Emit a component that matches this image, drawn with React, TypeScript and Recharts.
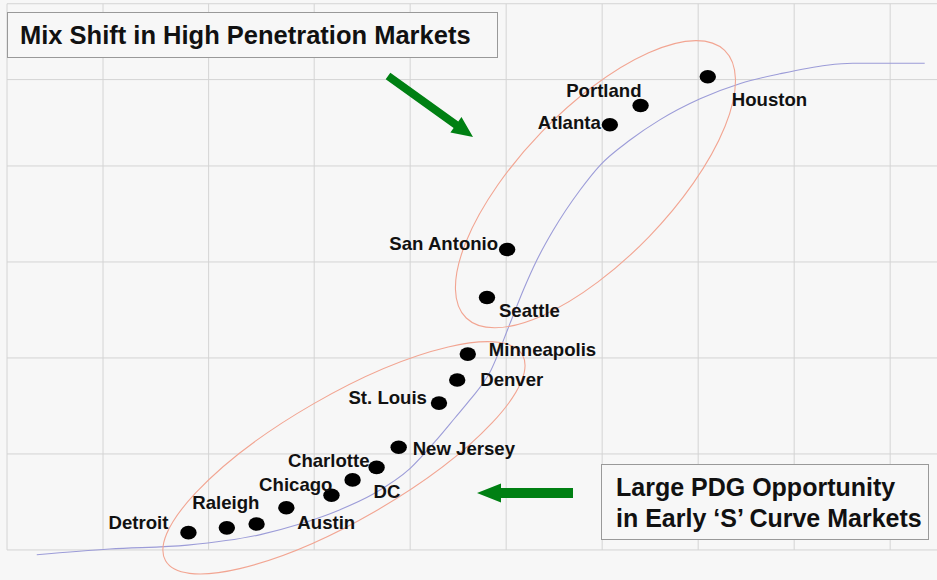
import React from 'react';
import {
  ComposedChart,
  Line,
  Scatter,
  XAxis,
  YAxis,
  ReferenceLine,
  ReferenceDot,
} from 'recharts';

const W = 937;
const H = 580;
const FONT = '"Liberation Sans", Arial, Helvetica, sans-serif';

// one grid step is one unit on both axes
const X_DOMAIN = [-0.073, 9.688];
const Y_DOMAIN = [-0.313, 5.729];
const X_GRID = [0, 1, 2.1, 3.2, 4.2, 5.2, 6.2, 7.2, 8.2, 9.2];
const Y_GRID = [0, 1, 2, 3, 4, 4.9, 5.69];

const MARKETS = [
  'Houston', 'Portland', 'Atlanta', 'San Antonio', 'Seattle', 'Minneapolis',
  'Denver', 'St. Louis', 'New Jersey', 'Charlotte', 'DC', 'Chicago',
  'Austin', '', 'Raleigh', 'Detroit',
];
const MARKET_X = [7.3, 6.6, 6.28, 5.21, 5.0, 4.8, 4.69, 4.5, 4.08, 3.85, 3.6, 3.38, 2.91, 2.6, 2.29, 1.89];
const MARKET_Y = [4.93, 4.63, 4.43, 3.13, 2.63, 2.04, 1.77, 1.53, 1.07, 0.86, 0.73, 0.57, 0.44, 0.27, 0.23, 0.18];

// S-curve trend
const CURVE_X = [0.31, 1.07, 1.88, 2.64, 3.05, 3.47, 3.81, 4.2, 4.46, 4.67, 4.82, 5.03, 5.24, 5.38, 5.52, 5.69, 5.97, 6.18, 6.49, 6.8, 7.22, 7.64, 8.05, 8.54, 8.81, 9.56];
const CURVE_Y = [-0.05, 0.01, 0.05, 0.16, 0.27, 0.42, 0.58, 0.85, 1.13, 1.38, 1.56, 1.85, 2.36, 2.71, 3.02, 3.33, 3.75, 4.01, 4.27, 4.48, 4.7, 4.86, 4.96, 5.05, 5.07, 5.07];

// groupings drawn as rotated ellipses around these centres
const GROUPS = ['high', 'early'];
const GROUP_X = [6.13, 3.51];
const GROUP_Y = [3.81, 0.96];

const marketData = MARKETS.map((name, i) => ({ name, x: MARKET_X[i], y: MARKET_Y[i] }));
const curveData = CURVE_X.map((x, i) => ({ x, y: CURVE_Y[i] }));

// label placement relative to the dot: [dx, dy, anchor]
const LABEL_POS: Record<string, [number, number, string]> = {
  Houston: [24, 23, 'start'],
  Portland: [1, -15, 'end'],
  Atlanta: [-9, -2, 'end'],
  'San Antonio': [-9, -6, 'end'],
  Seattle: [12, 13, 'start'],
  Minneapolis: [21, -5, 'start'],
  Denver: [23, -1, 'start'],
  'St. Louis': [-12, -6, 'end'],
  'New Jersey': [14, 1, 'start'],
  Charlotte: [-7, -7, 'end'],
  DC: [21, 12, 'start'],
  Chicago: [1, -11, 'end'],
  Austin: [11, 15, 'start'],
  Raleigh: [-1, -25, 'middle'],
  Detroit: [-20, -10, 'end'],
};

const ELLIPSE_STYLE: Record<string, { rx: number; ry: number; angle: number }> = {
  high: { rx: 186, ry: 75, angle: -46 },
  early: { rx: 206, ry: 62, angle: -30 },
};

const MarketDot = (props: any) => {
  const { cx, cy, payload } = props;
  const pos = LABEL_POS[payload.name];
  return (
    <g>
      <ellipse cx={cx} cy={cy} rx={8.2} ry={6.8} fill="#000" />
      {pos && (
        <text
          x={cx + pos[0]}
          y={cy + pos[1]}
          textAnchor={pos[2] as any}
          dominantBaseline="central"
          fontFamily={FONT}
          fontWeight="bold"
          fontSize={18.6}
          fill="#111"
        >
          {payload.name}
        </text>
      )}
    </g>
  );
};

function arrowPoints(x1: number, y1: number, x2: number, y2: number, shaft: number, head: number, headLen: number) {
  const len = Math.hypot(x2 - x1, y2 - y1);
  const ux = (x2 - x1) / len;
  const uy = (y2 - y1) / len;
  const nx = -uy;
  const ny = ux;
  const bx = x2 - ux * headLen;
  const by = y2 - uy * headLen;
  const s = shaft / 2;
  const h = head / 2;
  const pts = [
    [x1 + nx * s, y1 + ny * s],
    [bx + nx * s, by + ny * s],
    [bx + nx * h, by + ny * h],
    [x2, y2],
    [bx - nx * h, by - ny * h],
    [bx - nx * s, by - ny * s],
    [x1 - nx * s, y1 - ny * s],
  ];
  return pts.map((p) => p.join(',')).join(' ');
}

export default function App() {
  return (
    <div style={{ position: 'absolute', left: 0, top: 0, width: W, height: H, background: '#f7f7f7', overflow: 'hidden' }}>
      <ComposedChart width={W} height={H} margin={{ top: 0, right: 0, bottom: 0, left: 0 }}>
        <XAxis type="number" dataKey="x" domain={X_DOMAIN} hide allowDataOverflow />
        <YAxis type="number" dataKey="y" domain={Y_DOMAIN} hide allowDataOverflow />
        {X_GRID.map((x) => (
          <ReferenceLine
            key={'vx' + x}
            segment={[{ x, y: Y_GRID[0] }, { x, y: Y_GRID[Y_GRID.length - 1] }]}
            stroke="#d4d4d4"
            strokeWidth={1}
            ifOverflow="visible"
          />
        ))}
        {Y_GRID.map((y) => (
          <ReferenceLine
            key={'hy' + y}
            segment={[{ x: X_GRID[0], y }, { x: X_DOMAIN[1], y }]}
            stroke="#d4d4d4"
            strokeWidth={1}
            ifOverflow="visible"
          />
        ))}
        {GROUPS.map((g, i) => (
          <ReferenceDot
            key={g}
            x={GROUP_X[i]}
            y={GROUP_Y[i]}
            ifOverflow="visible"
            shape={(p: any) => {
              const st = ELLIPSE_STYLE[g];
              return (
                <ellipse
                  cx={p.cx}
                  cy={p.cy}
                  rx={st.rx}
                  ry={st.ry}
                  transform={`rotate(${st.angle} ${p.cx} ${p.cy})`}
                  fill="none"
                  stroke="#f2a592"
                  strokeWidth={1.1}
                />
              );
            }}
          />
        ))}
        <Line
          data={curveData}
          dataKey="y"
          type="monotone"
          stroke="#9c9cd8"
          strokeWidth={1.1}
          dot={false}
          activeDot={false}
          isAnimationActive={false}
        />
        <Scatter data={marketData} dataKey="y" shape={MarketDot} isAnimationActive={false} />
      </ComposedChart>
      <svg
        width={W}
        height={H}
        style={{ position: 'absolute', left: 0, top: 0, pointerEvents: 'none' }}
      >
        <rect x={7.5} y={12.5} width={490} height={45} fill="#f7f7f7" stroke="#999" strokeWidth={1} />
        <text x={20} y={35} dominantBaseline="central" fontFamily={FONT} fontWeight="bold" fontSize={25.5} fill="#111">
          Mix Shift in High Penetration Markets
        </text>
        <rect x={601.5} y={464.5} width={327} height={75} fill="#f7f7f7" stroke="#999" strokeWidth={1} />
        <text fontFamily={FONT} fontWeight="bold" fontSize={25} fill="#111" dominantBaseline="central">
          <tspan x={616} y={487}>Large PDG Opportunity</tspan>
          <tspan x={616} y={518}>in Early ‘S’ Curve Markets</tspan>
        </text>
        <polygon points={arrowPoints(388, 76, 473, 137, 8, 19, 21)} fill="#008013" />
        <polygon points={arrowPoints(573, 493, 477, 493, 10, 19, 24)} fill="#008013" />
      </svg>
    </div>
  );
}
